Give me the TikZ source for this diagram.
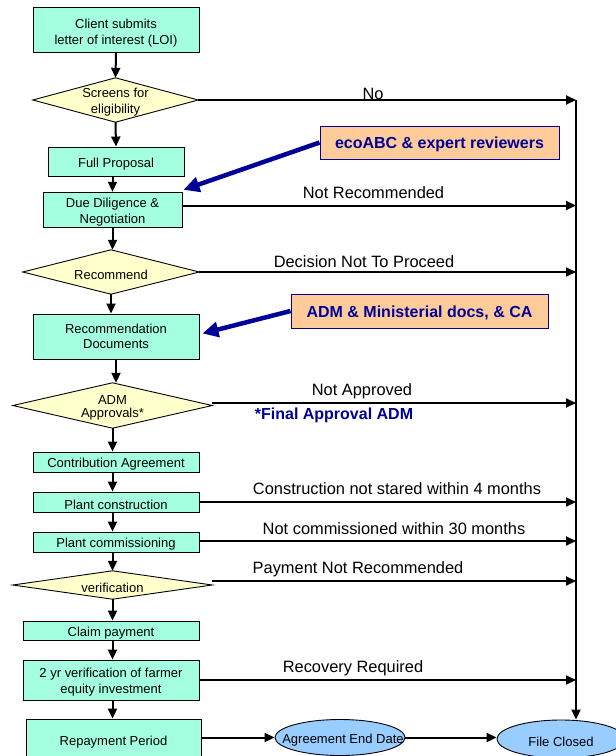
\documentclass[tikz,border=0pt]{standalone}
\usepackage{fontspec}
\setmainfont{Liberation Sans}
\usetikzlibrary{arrows.meta,shapes.geometric}
\pgfdeclarelayer{background}
\pgfsetlayers{background,main}
\definecolor{mint}{RGB}{163,255,224}
\definecolor{dyellow}{RGB}{255,255,204}
\definecolor{lorange}{RGB}{255,204,153}
\definecolor{ellblue}{RGB}{153,204,255}
\definecolor{navy}{RGB}{0,0,153}
\newcommand{\highstrut}{\rule{0pt}{14.2pt}}
\newcommand{\notestrut}{\rule{0pt}{16pt}}
\newcommand{\mlines}[2]{\begin{tabular}{@{}c@{}}\rule{0pt}{#1}#2\end{tabular}}
\begin{document}
\begin{tikzpicture}[x=1pt,y=-1pt,
  box/.style={draw=black, line width=0.9pt, fill=mint, inner sep=0pt, align=center,
    font=\fontsize{13}{15.5}\selectfont, execute at begin node=\highstrut},
  dtext/.style={inner sep=0pt, align=center, font=\fontsize{13}{15.5}\selectfont,
    execute at begin node=\highstrut},
  dshape/.style={draw=black, line width=0.9pt, fill=dyellow},
  ell/.style={ellipse, draw=black, line width=0.9pt, fill=ellblue, inner sep=0pt,
    font=\fontsize{13}{15.5}\selectfont, execute at begin node=\highstrut},
  note/.style={draw=navy, line width=0.9pt, fill=lorange, inner sep=0pt, text=navy,
    font=\fontsize{16}{19}\bfseries\selectfont, execute at begin node=\notestrut},
  flow/.style={line width=2pt, -{Triangle[length=10pt,width=9pt]}},
  blue arrow/.style={draw=navy, line width=4.5pt, -{Triangle[length=16pt,width=15pt]}},
  lbl/.style={inner sep=0pt, font=\fontsize{16.4}{19}\selectfont}]
\useasboundingbox (0,0) rectangle (616,756);

% main column
\node[box, minimum width=166pt, minimum height=45pt, font=\fontsize{13}{16}\selectfont] (b1) at (116,29.5) {\mlines{18.1pt}{Client submits\\letter of interest (LOI)}};
\node[dtext, minimum width=165pt, minimum height=44pt] (d1) at (115.5,100) {\mlines{15.35pt}{Screens for\\eligibility}};
\node[box, minimum width=136pt, minimum height=29pt] (b2) at (116,161.5) {Full Proposal};
\node[box, minimum width=139pt, minimum height=28pt] (b3) at (112.5,210) {\mlines{15.35pt}{Due Diligence \&\\Negotiation}};
\node[dtext, minimum width=176pt, minimum height=44pt] (d2) at (111,272) {Recommend};
\node[box, minimum width=166pt, minimum height=45pt] (b4) at (116,336.5) {\mlines{13.35pt}{Recommendation\\Documents}};
\node[dtext, minimum width=199pt, minimum height=45pt, font=\fontsize{13}{13}\selectfont] (d3) at (112.5,405.5) {\mlines{14.6pt}{ADM\\Approvals*}};
\node[box, minimum width=166pt, minimum height=20pt] (b5) at (116,462) {Contribution Agreement};
\node[box, minimum width=166pt, minimum height=20pt] (b6) at (116,502) {Plant construction};
\node[box, minimum width=166pt, minimum height=20pt] (b7) at (116,542) {Plant commissioning};
\node[dtext, minimum width=199pt, minimum height=28pt] (d4) at (112.5,585) {verification};
\node[box, minimum width=176pt, minimum height=19pt] (b8) at (111,630.5) {Claim payment};
\node[box, minimum width=176pt, minimum height=40pt] (b9) at (111,680) {\mlines{15.35pt}{2 yr verification of farmer\\equity investment}};
\node[box, minimum width=175pt, minimum height=41pt] (b10) at (113.5,739.5) {Repayment Period};

\begin{pgfonlayer}{background}
\foreach \n in {d1,d2,d3,d4}
  \path[dshape] (\n.west) -- (\n.north) -- (\n.east) -- (\n.south) -- cycle;
\end{pgfonlayer}

% ellipses
\node[ell, minimum width=130pt, minimum height=36pt] (e1) at (340,737.5) {\makebox[0pt]{\hspace{6pt}Agreement End Date}};
\node[ell, minimum width=128pt, minimum height=38pt] (e2) at (561,739) {\makebox[0pt]{File Closed}};

% notes
\node[note, minimum width=239pt, minimum height=33pt] (o1) at (439.5,142.5) {ecoABC \& expert reviewers};
\node[note, minimum width=257pt, minimum height=34pt] (o2) at (419.5,311) {ADM \& Ministerial docs, \& CA};
\node[inner sep=0pt, text=navy, font=\fontsize{16}{19}\bfseries\selectfont] (fa) at (334,415.5) {*Final Approval ADM};

% vertical flow
\draw[flow] (b1.south) -- (d1.north);
\draw[flow] (d1.south) -- (b2.north);
\draw[flow] (b2.south -| b3.north) -- (b3.north);
\draw[flow] (b3.south) -- (d2.north -| b3.south);
\draw[flow] (d2.south) -- (b4.north -| d2.south);
\draw[flow] (b4.south) -- (d3.north -| b4.south);
\draw[flow] (d3.south) -- (b5.north -| d3.south);
\draw[flow] (b5.south -| d3.south) -- (b6.north -| d3.south);
\draw[flow] (b6.south -| d3.south) -- (b7.north -| d3.south);
\draw[flow] (b7.south -| d3.south) -- (d4.north);
\draw[flow] (d4.south) -- (b8.north -| d4.south);
\draw[flow] (b8.south -| d4.south) -- (b9.north -| d4.south);
\draw[flow] (b9.south -| d4.south) -- (b10.north -| d4.south);

% exit start points
\coordinate (s3) at ([yshift=4.5pt]b3.east);
\coordinate (s4) at ([yshift=2.5pt]d3.east);
\coordinate (s7) at ([yshift=1pt]b7.east);
\coordinate (s8) at ([yshift=4pt]d4.east);

% rail to File Closed
\coordinate (rail) at (576,100);
\draw[line width=2pt] (rail) -- (rail |- b9.east);
\draw[flow] (rail |- b9.east) -- (rail |- e2.north);

% exits
\draw[flow] (d1.east) -- (rail);
\draw[flow] (s3) -- (rail |- s3);
\draw[flow] (d2.east) -- (rail |- d2.east);
\draw[flow] (s4) -- (rail |- s4);
\draw[flow] (b6.east) -- (rail |- b6.east);
\draw[flow] (s7) -- (rail |- s7);
\draw[flow] (s8) -- (rail |- s8);
\draw[flow] (b9.east) -- (rail |- b9.east);

% exit labels
\node[lbl] (l1) at (373,94) {No};
\node[lbl] (l2) at (373.5,193) {Not Recommended};
\node[lbl] (l3) at (364,262) {Decision Not To Proceed};
\node[lbl] (l4) at (362,391) {Not Approved};
\node[lbl] (l5) at (397,489) {Construction not stared within 4 months};
\node[lbl] (l6) at (394,529) {Not commissioned within 30 months};
\node[lbl] (l7) at (358,569) {Payment Not Recommended};
\node[lbl] (l8) at (353,668) {Recovery Required};

% bottom row
\draw[flow] (b10.east |- e1.west) -- (e1.west);
\draw[flow] (e1.east) -- (e2.west |- e1.east);

% note arrows
\draw[blue arrow] (o1.west) -- ([xshift=1pt,yshift=2pt]b3.north east);
\draw[blue arrow] (o2.west) -- ([xshift=3pt,yshift=3pt]b4.east);
\end{tikzpicture}
\end{document}
